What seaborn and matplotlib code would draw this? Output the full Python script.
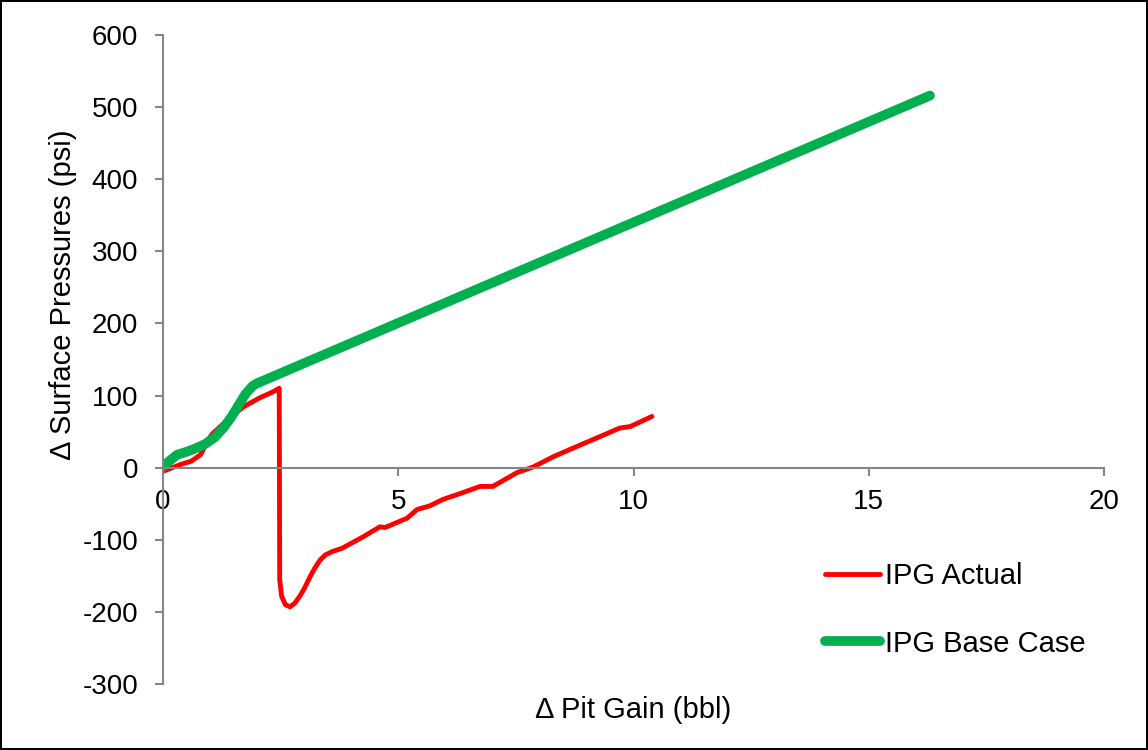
import matplotlib
matplotlib.use("Agg")
import matplotlib.pyplot as plt
import seaborn as sns
import pandas as pd

# Measured pit gain vs. surface pressure change (IPG actual)
actual_gain = [0.0, 0.2, 0.4, 0.6, 0.8, 0.95, 1.05, 1.3, 1.7, 2.06, 2.3, 2.47,
               2.48, 2.52, 2.6, 2.7, 2.8, 2.91, 3.0, 3.12, 3.22, 3.34, 3.45,
               3.61, 3.8, 4.25, 4.61, 4.72, 5.19, 5.4, 5.67, 5.95, 6.31, 6.74,
               7.01, 7.52, 7.87, 8.29, 8.71, 9.14, 9.71, 9.93, 10.39]
actual_pressure = [-5, 0, 5, 9, 18, 38, 47, 62, 84, 97, 104, 110,
                   -155, -178, -190, -193, -188, -178, -168, -152, -140, -128, -121,
                   -116, -112, -96, -82, -83, -70, -58, -53, -44, -36, -26,
                   -26, -7, 1, 15, 27, 39, 55, 57, 71]

# Modelled response (IPG base case)
base_gain = [0.0, 0.15, 0.3, 0.5, 0.7, 0.9, 1.1, 1.28, 1.45, 1.6, 1.75, 1.9, 2.0, 16.3]
base_pressure = [2, 10, 18, 22, 27, 33, 42, 55, 70, 86, 102, 113, 117, 516]

x_ticks = [0, 5, 10, 15, 20]
y_ticks = [-300, -200, -100, 0, 100, 200, 300, 400, 500, 600]

sns.set_theme(style="white")
plt.rcParams["font.family"] = ["Liberation Sans", "DejaVu Sans"]
plt.rcParams["text.color"] = "black"
plt.rcParams["axes.labelcolor"] = "black"

actual = pd.DataFrame({"gain": actual_gain, "pressure": actual_pressure})
base = pd.DataFrame({"gain": base_gain, "pressure": base_pressure})

fig = plt.figure(figsize=(11.48, 7.5), dpi=100, edgecolor="black", linewidth=1.5)
ax = fig.add_axes([0.142, 0.088, 0.8197, 0.8653])

sns.lineplot(data=actual, x="gain", y="pressure", sort=False, estimator=None,
             color="#ff0000", linewidth=3.5, ax=ax, label="IPG Actual",
             solid_capstyle="round", solid_joinstyle="round")
sns.lineplot(data=base, x="gain", y="pressure", sort=False, estimator=None,
             color="#00b050", linewidth=7, ax=ax, label="IPG Base Case",
             solid_capstyle="round", solid_joinstyle="round")

ax.set_xlim(0, 20)
ax.set_ylim(-300, 600)
ax.set_xticks(x_ticks)
ax.set_yticks(y_ticks)
ax.set_xticklabels([str(v) for v in x_ticks])
ax.set_yticklabels([str(v) for v in y_ticks])

spine_col = "#868686"
for side in ("top", "right"):
    ax.spines[side].set_visible(False)
ax.spines["bottom"].set_position(("data", 0))
for side in ("left", "bottom"):
    ax.spines[side].set_color(spine_col)
    ax.spines[side].set_linewidth(1.5)

ax.tick_params(axis="both", which="major", direction="out", length=6,
               width=1.5, color=spine_col, labelsize=20, labelcolor="black")
ax.tick_params(axis="y", pad=12, left=True)
ax.tick_params(axis="x", pad=9, bottom=True)

ax.set_xlabel("\u0394 Pit Gain (bbl)", fontsize=21, color="black")
ax.set_ylabel("\u0394 Surface Pressures (psi)", fontsize=21, color="black")
ax.xaxis.set_label_coords(0.5, -0.018)
ax.yaxis.set_label_coords(-0.091, 0.6)

ax.legend(loc="center left", bbox_to_anchor=(0.703, 0.114), frameon=False,
          fontsize=21, handlelength=1.9, handletextpad=0.17, labelspacing=1.35,
          borderpad=0, borderaxespad=0)

fig.savefig("out.png", dpi=100)
